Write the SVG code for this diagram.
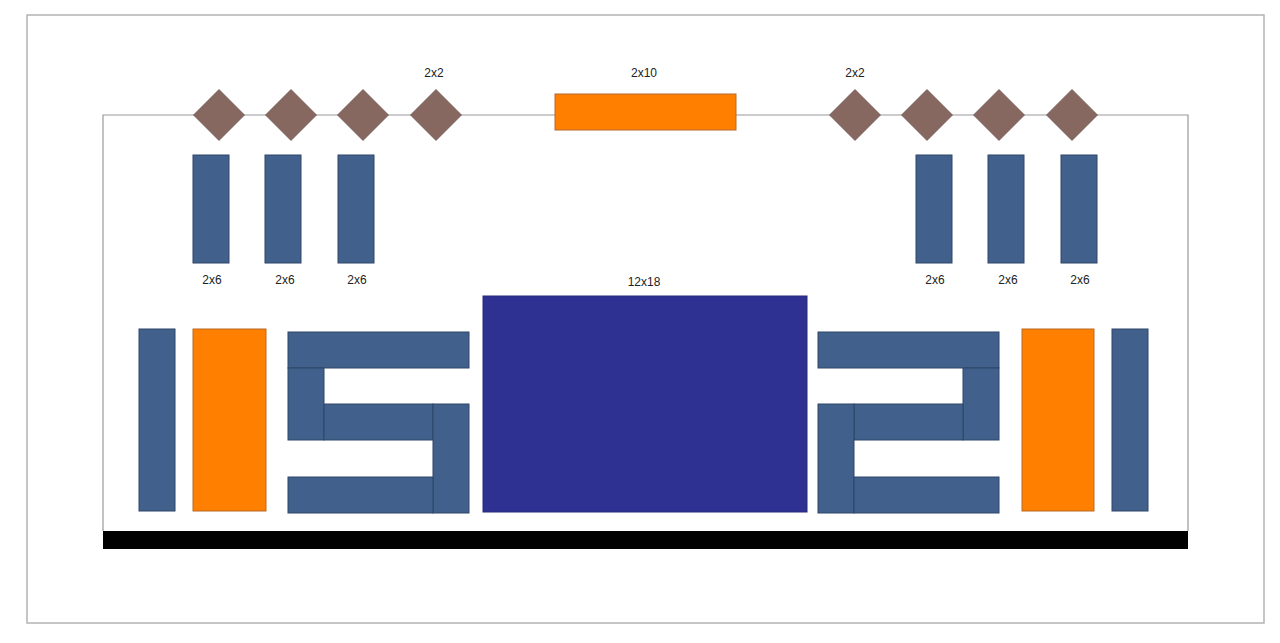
<svg xmlns="http://www.w3.org/2000/svg" width="1280" height="643" viewBox="0 0 1280 643">
<style>
.frame{fill:#fff;stroke:#b3b3b3;stroke-width:1.5}
.line{fill:none;stroke:#9a9a9a;stroke-width:1.2}
.blk{fill:#41608b;stroke:#2f4668;stroke-width:1}
.org{fill:#ff7f00;stroke:#b86a2a;stroke-width:1}
.dia{fill:#866860;stroke:#6f5650;stroke-width:0.8}
.big{fill:#2e3192;stroke:#262a7a;stroke-width:1}
.lbl{font-family:"Liberation Sans",Arial,sans-serif;font-size:12px;fill:#222;text-anchor:middle}
</style>
<rect width="1280" height="643" fill="#fff"/>
<rect class="frame" x="27" y="15" width="1237" height="608"/>
<g id="connectors">
<path class="line" d="M103,531 V115 H1188 V531"/>
</g>
<rect id="base" x="103" y="531" width="1085" height="18" fill="#000"/>
<g id="diamonds-left">
<polygon class="dia" points="219,89.5 244.5,115 219,140.5 193.5,115"/>
<polygon class="dia" points="291,89.5 316.5,115 291,140.5 265.5,115"/>
<polygon class="dia" points="363,89.5 388.5,115 363,140.5 337.5,115"/>
<polygon class="dia" points="436,89.5 461.5,115 436,140.5 410.5,115"/>
<text class="lbl" x="434" y="77">2x2</text>
</g>
<g id="diamonds-right">
<polygon class="dia" points="855,89.5 880.5,115 855,140.5 829.5,115"/>
<polygon class="dia" points="927,89.5 952.5,115 927,140.5 901.5,115"/>
<polygon class="dia" points="999,89.5 1024.5,115 999,140.5 973.5,115"/>
<polygon class="dia" points="1072,89.5 1097.5,115 1072,140.5 1046.5,115"/>
<text class="lbl" x="855" y="77">2x2</text>
</g>
<g id="top-bar">
<rect class="org" x="555" y="94" width="181" height="36"/>
<text class="lbl" x="644" y="77">2x10</text>
</g>
<g id="cols-left">
<rect class="blk" x="193" y="155" width="36" height="108"/>
<rect class="blk" x="265" y="155" width="36" height="108"/>
<rect class="blk" x="338" y="155" width="36" height="108"/>
<text class="lbl" x="212" y="284">2x6</text>
<text class="lbl" x="285" y="284">2x6</text>
<text class="lbl" x="357" y="284">2x6</text>
</g>
<g id="cols-right">
<rect class="blk" x="916" y="155" width="36" height="108"/>
<rect class="blk" x="988" y="155" width="36" height="108"/>
<rect class="blk" x="1061" y="155" width="36" height="108"/>
<text class="lbl" x="935" y="284">2x6</text>
<text class="lbl" x="1008" y="284">2x6</text>
<text class="lbl" x="1080" y="284">2x6</text>
</g>
<g id="center">
<rect class="big" x="483" y="296" width="324" height="216"/>
<text class="lbl" x="644" y="286">12x18</text>
</g>
<g id="left-bottom">
<rect class="blk" x="139" y="329" width="36" height="182"/>
<rect class="org" x="193" y="329" width="73" height="182"/>
</g>
<g id="s-shape">
<rect class="blk" x="288" y="332" width="181" height="36"/>
<rect class="blk" x="288" y="368" width="36" height="72"/>
<rect class="blk" x="324" y="404" width="109" height="36"/>
<rect class="blk" x="433" y="404" width="36" height="109"/>
<rect class="blk" x="288" y="477" width="145" height="36"/>
</g>
<g id="two-shape">
<rect class="blk" x="818" y="332" width="181" height="36"/>
<rect class="blk" x="963" y="368" width="36" height="72"/>
<rect class="blk" x="854" y="404" width="109" height="36"/>
<rect class="blk" x="818" y="404" width="36" height="109"/>
<rect class="blk" x="854" y="477" width="145" height="36"/>
</g>
<g id="right-bottom">
<rect class="org" x="1022" y="329" width="72" height="182"/>
<rect class="blk" x="1112" y="329" width="36" height="182"/>
</g>
</svg>
